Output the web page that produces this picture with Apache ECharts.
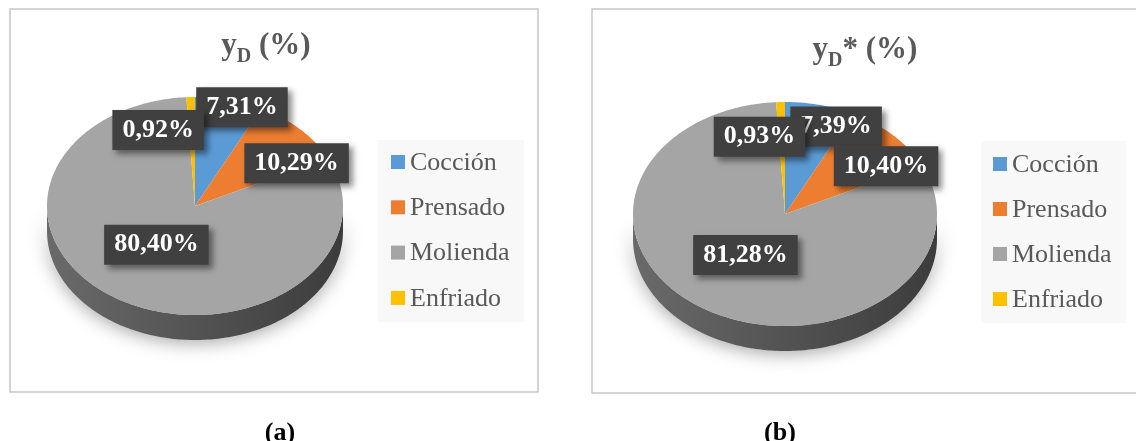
<!DOCTYPE html>
<html>
<head>
<meta charset="utf-8">
<script src="https://cdn.jsdelivr.net/npm/echarts@6.0.0/dist/echarts.min.js"></script>
<style>
html,body{margin:0;padding:0;background:#ffffff;}
#chart{width:1136px;height:441px;}
</style>
</head>
<body>
<div id="chart"></div>
<script>
// ---- data ----
const categories = ['Cocción', 'Prensado', 'Molienda', 'Enfriado'];
const valuesA = [7.31, 10.29, 80.40, 0.92];   // y_D (%)
const valuesB = [7.39, 10.40, 81.28, 0.93];   // y_D* (%)
const titleA = '{y|y}{d|D}{p| (%)}';
const titleB = '{y|y}{d|D}{p|* (%)}';
const captions = ['(a)', '(b)'];

// ---- styles / layout ----
const colors = ['#5B9BD5', '#ED7D31', '#A5A5A5', '#FFC000'];
const sideColors = [['#3f74a3', '#2c5882'], ['#b35a1e', '#8a4212'], ['#6a6a6a', '#3c3c3c'], ['#b38a00', '#8a6a00']];
// label placement relative to slice: [angle offset from mid-angle (deg), radius fraction]
const labelTweakA = [[6, 0.96], [15, 0.79], [6, 0.44], [-18, 0.74]];
const labelTweakB = [[10, 0.85], [12, 0.79], [5, 0.45], [-12, 0.71]];
const layoutA = {cx: 195, cy: 206, rx: 148, ry: 109, depth: 25, lgX: 391, lgY: 162, lgStep: 45.3, bg: [378, 140, 146, 182]};
const layoutB = {cx: 785, cy: 214, rx: 152, ry: 112, depth: 25, lgX: 993, lgY: 164, lgStep: 45, bg: [981, 141, 145, 182]};

const SERIF = '"Liberation Serif", "Times New Roman", serif';

function fmt(v) { return v.toFixed(2).replace('.', ',') + '%'; }

function makeRender(values, L, tweak) {
  const total = values.reduce((a, b) => a + b, 0);
  return function (params, api) {
    const i = params.dataIndex;
    const v = api.value(0);
    let start = 0;
    for (let k = 0; k < i; k++) start += values[k];
    const a1 = start / total * 360;
    const a2 = (start + v) / total * 360;
    const pt = (deg, f, dy) => [
      L.cx + L.rx * f * Math.sin(deg * Math.PI / 180),
      L.cy - L.ry * f * Math.cos(deg * Math.PI / 180) + (dy || 0)
    ];
    const children = [];
    if (i === 0) {
      children.push({type: 'rect', z2: 0, shape: {x: L.bg[0], y: L.bg[1], width: L.bg[2], height: L.bg[3]}, style: {fill: '#f8f8f8'}});
    }
    // visible side (front half of the ellipse)
    const s = Math.max(a1, 90), e = Math.min(a2, 270);
    if (e > s) {
      const pts = [];
      for (let d = s; d < e; d += 1) pts.push(pt(d, 1));
      pts.push(pt(e, 1));
      for (let d = e; d > s; d -= 1) pts.push(pt(d, 1, L.depth));
      pts.push(pt(s, 1, L.depth));
      children.push({type: 'polygon', z2: 1, shape: {points: pts},
        style: {
          fill: {type: 'linear', x: 0, y: 0, x2: 1, y2: 0, global: false,
            colorStops: [{offset: 0, color: sideColors[i][0]}, {offset: 1, color: sideColors[i][1]}]},
          shadowBlur: 18, shadowColor: 'rgba(0,0,0,0.35)', shadowOffsetY: 3}});
    }
    // top face
    const tp = [[L.cx, L.cy]];
    for (let d = a1; d < a2; d += 1) tp.push(pt(d, 1));
    tp.push(pt(a2, 1));
    children.push({type: 'polygon', z2: 10, shape: {points: tp}, style: {fill: colors[i]}});
    // data label
    const mid = (a1 + a2) / 2 + tweak[i][0];
    const lp = pt(mid, tweak[i][1]);
    children.push({type: 'text', z2: 20 + i, x: lp[0], y: lp[1],
      style: {text: fmt(v), fill: '#ffffff', fontSize: 26, fontWeight: 'bold', fontFamily: SERIF,
        align: 'center', verticalAlign: 'middle', backgroundColor: '#404040', padding: [7, 10, 7, 10],
        shadowBlur: 6, shadowColor: 'rgba(0,0,0,0.45)', shadowOffsetX: 4, shadowOffsetY: 4}});
    // legend entry
    const ly = L.lgY + i * L.lgStep;
    children.push({type: 'rect', z2: 5, shape: {x: L.lgX, y: ly - 7, width: 14, height: 14}, style: {fill: colors[i]}});
    children.push({type: 'text', z2: 5, x: L.lgX + 19, y: ly + 1,
      style: {text: categories[i], fill: '#595959', fontSize: 26, fontFamily: SERIF, align: 'left', verticalAlign: 'middle'}});
    return {type: 'group', children: children};
  };
}

const titleRich = {
  y: {fontSize: 31, fontWeight: 'bold', fontFamily: SERIF, fill: '#595959'},
  d: {fontSize: 20, fontWeight: 'bold', fontFamily: SERIF, fill: '#595959', padding: [22, 0, 0, 0]},
  p: {fontSize: 31, fontWeight: 'bold', fontFamily: SERIF, fill: '#595959'}
};

const chart = echarts.init(document.getElementById('chart'), null, {renderer: 'canvas'});
chart.setOption({
  animation: false,
  backgroundColor: '#ffffff',
  graphic: [
    {type: 'rect', shape: {x: 10, y: 9, width: 528, height: 383}, style: {fill: 'transparent', stroke: '#c6c6c6', lineWidth: 1.5}, silent: true},
    {type: 'rect', shape: {x: 592, y: 9, width: 600, height: 384}, style: {fill: 'transparent', stroke: '#c6c6c6', lineWidth: 1.5}, silent: true},
    {type: 'text', x: 266, y: 46, style: {text: titleA, align: 'center', verticalAlign: 'middle', rich: titleRich}, silent: true},
    {type: 'text', x: 865, y: 50, style: {text: titleB, align: 'center', verticalAlign: 'middle', rich: titleRich}, silent: true},
    {type: 'text', x: 280, y: 433, style: {text: captions[0], align: 'center', verticalAlign: 'middle', fontSize: 26, fontWeight: 'bold', fontFamily: SERIF, fill: '#000000'}, silent: true},
    {type: 'text', x: 780, y: 433, style: {text: captions[1], align: 'center', verticalAlign: 'middle', fontSize: 26, fontWeight: 'bold', fontFamily: SERIF, fill: '#000000'}, silent: true}
  ],
  series: [
    {type: 'custom', name: 'yD', coordinateSystem: 'none', silent: true,
      data: valuesA.map((v, i) => ({name: categories[i], value: v})),
      renderItem: makeRender(valuesA, layoutA, labelTweakA)},
    {type: 'custom', name: 'yD*', coordinateSystem: 'none', silent: true,
      data: valuesB.map((v, i) => ({name: categories[i], value: v})),
      renderItem: makeRender(valuesB, layoutB, labelTweakB)}
  ]
});
</script>
</body>
</html>
